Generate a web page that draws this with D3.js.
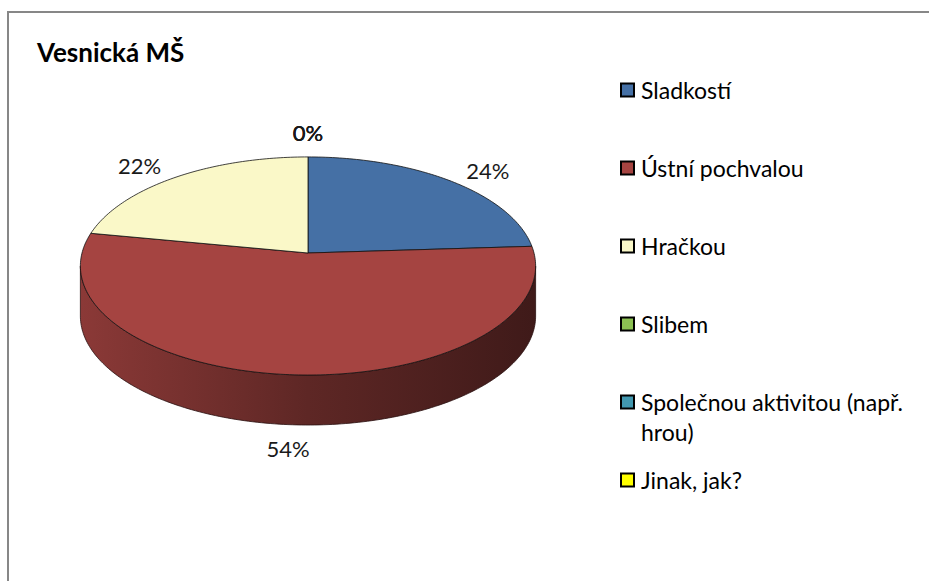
<!DOCTYPE html>
<html>
<head>
<meta charset="utf-8">
<script src="https://cdn.jsdelivr.net/npm/d3@7"></script>
<style>
  html, body { margin: 0; padding: 0; background: #fff; overflow: hidden; }
  svg { display: block; }
  text { font-family: Lato, "Open Sans", sans-serif; }
</style>
</head>
<body>
<svg id="chart" width="929" height="581"></svg>
<script>
// Odpovědi: čím dítě odměňujete
const title = "Vesnická MŠ";
const categories = ["Sladkostí", "Ústní pochvalou", "Hračkou", "Slibem", "Společnou aktivitou (např. hrou)", "Jinak, jak?"];
const shares = [24, 54, 22, 0, 0, 0];
const valueLabels = ["24%", "54%", "22%", "0%", "0%", "0%"];
const colors = ["#4570A5", "#A54441", "#FAF8C8", "#8CC152", "#4298B0", "#FFFF00"];

const W = 929, H = 581;
const svg = d3.select("#chart");

// chart frame (left and top edges fall inside the view)
svg.append("path")
  .attr("d", `M8,${H}V12H${W}`)
  .attr("fill", "none").attr("stroke", "#878787").attr("stroke-width", 2);

svg.append("text")
  .attr("x", 37).attr("y", 62)
  .attr("font-size", 26).attr("font-weight", "bold").attr("fill", "#000")
  .text(title);

// 3D pie geometry: tilted disc with a little perspective
const cx = 308, cy = 253, A = 226, B = 107.5, k = 0.119, depth = 50;
function proj(theta, r, h) {
  const u = r * Math.sin(theta), v = r * Math.cos(theta), w = 1 + k * v;
  return [cx + A * u / w, cy - B * v / w + h];
}
function arcPoints(a, b, h) {
  const n = Math.max(2, Math.ceil(Math.abs(b - a) / (Math.PI / 180)));
  return d3.range(n + 1).map(i => proj(a + (b - a) * i / n, 1, h));
}
function shade(c, f) {
  const col = d3.rgb(c);
  return d3.rgb(col.r * f, col.g * f, col.b * f).formatHex();
}

const pie = d3.pie().sort(null).value(d => d)(shares);
const line = d3.line();

const defs = svg.append("defs");
const halfW = A / Math.sqrt(1 - k * k);
pie.forEach((p, i) => {
  const g = defs.append("linearGradient")
    .attr("id", "side" + i).attr("gradientUnits", "userSpaceOnUse")
    .attr("x1", cx - halfW).attr("x2", cx + halfW).attr("y1", 0).attr("y2", 0);
  g.append("stop").attr("offset", 0).attr("stop-color", shade(colors[i], 0.84));
  g.append("stop").attr("offset", 0.5).attr("stop-color", shade(colors[i], 0.57));
  g.append("stop").attr("offset", 1).attr("stop-color", shade(colors[i], 0.38));
});

// visible front wall: between the left- and right-most points of the disc
const tL = Math.acos(-k), tR = 2 * Math.PI - tL;
const sides = svg.append("g");
pie.forEach((p, i) => {
  const s = Math.max(p.startAngle, tL), e = Math.min(p.endAngle, tR);
  if (e <= s) return;
  const pts = arcPoints(s, e, 0).concat(arcPoints(e, s, depth));
  sides.append("path")
    .attr("d", line(pts) + "Z")
    .attr("fill", `url(#side${i})`)
    .attr("stroke", "#2a1010").attr("stroke-width", 0.8);
});

// top faces
const tops = svg.append("g");
pie.forEach((p, i) => {
  if (p.endAngle - p.startAngle <= 0) return;
  const pts = [proj(0, 0, 0)].concat(arcPoints(p.startAngle, p.endAngle, 0));
  tops.append("path")
    .attr("d", line(pts) + "Z")
    .attr("fill", colors[i])
    .attr("stroke", "#111").attr("stroke-width", 0.8).attr("stroke-linejoin", "round");
});

// value labels outside the disc
const labels = svg.append("g").attr("font-size", 22).attr("fill", "#1a1a1a");
const c0 = proj(0, 0, 0);
pie.forEach((p, i) => {
  const mid = (p.startAngle + p.endAngle) / 2;
  const edge = proj(mid, 1, 0);
  const v = Math.cos(mid);
  if (v < 0 && mid > tL && mid < tR) edge[1] += depth;
  let dx = edge[0] - c0[0], dy = edge[1] - c0[1];
  const len = Math.hypot(dx, dy) || 1;
  dx /= len; dy /= len;
  const gap = 12, hw = 30, hh = 12;
  const x = edge[0] + dx * (gap + hw), y = edge[1] + dy * (gap + hh);
  labels.append("text")
    .attr("x", x).attr("y", y)
    .attr("text-anchor", "middle").attr("dominant-baseline", "central")
    .text(valueLabels[i]);
});

// legend
const legend = svg.append("g").attr("font-size", 23).attr("fill", "#000");
const legX = 621, legY = 90, legStep = 78, textX = 641, maxW = 290, lineH = 30;
categories.forEach((name, i) => {
  const y = legY + i * legStep;
  legend.append("rect")
    .attr("x", legX).attr("y", y - 6.5).attr("width", 13).attr("height", 13)
    .attr("fill", colors[i]).attr("stroke", "#000").attr("stroke-width", 2);
  const t = legend.append("text").attr("x", textX).attr("y", y).attr("dominant-baseline", "central");
  const words = name.split(" ");
  let lineWords = [];
  let ts = t.append("tspan").attr("x", textX).attr("dy", 0);
  words.forEach(wd => {
    lineWords.push(wd);
    ts.text(lineWords.join(" "));
    if (ts.node().getComputedTextLength() > maxW && lineWords.length > 1) {
      lineWords.pop();
      ts.text(lineWords.join(" "));
      lineWords = [wd];
      ts = t.append("tspan").attr("x", textX).attr("dy", lineH).text(wd);
    }
  });
});
</script>
</body>
</html>
